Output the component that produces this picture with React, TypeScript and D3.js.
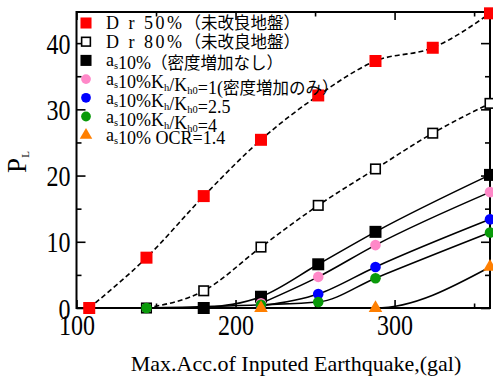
import React, { useEffect, useRef } from 'react';
import * as d3 from 'd3';

const W = 493;
const H = 376;
const left = 76.5, right = 490, top = 12, bottom = 308;

// 入力加速度 (gal) と PL 値
const accDr50 = [108, 144, 180, 216, 252, 288, 324, 360];
const plDr50 = [0, 7.6, 16.9, 25.4, 32.1, 37.3, 39.3, 44.5];
const accDr80 = [144, 180, 216, 252, 288, 324, 360];
const plDr80 = [0, 2.6, 9.2, 15.5, 21.0, 26.4, 30.9];
const accAs = [180, 216, 252, 288, 360];
const plAs = [0, 1.7, 6.6, 11.5, 20.1];
const accK = [216, 252, 288, 360];
const plK1 = [0.7, 4.7, 9.5, 17.5];
const plK25 = [0.3, 2.1, 6.2, 13.4];
const accK4 = [144, 216, 252, 288, 360];
const plK4 = [0, 0.5, 0.9, 4.5, 11.4];
const accOcr = [216, 288, 360];
const plOcr = [0, 0, 6.2];

const xMajor = [100, 200, 300];
const xMinor = [150, 250, 350];
const yMajor = [0, 10, 20, 30, 40];
const yMinor = [5, 15, 25, 35];

const SERIF = 'Liberation Serif, Times New Roman, serif';
const CJK = 'Noto Sans CJK JP, sans-serif';

const x = d3.scaleLinear().domain([100, 360]).range([left, right]);
const y = d3.scaleLinear().domain([0, 44.7]).range([bottom, top]);

type Mark = 'sq' | 'open' | 'circle' | 'tri';

const series: { acc: number[]; pl: number[]; mark: Mark; color: string; dashed: boolean }[] = [
  { acc: accDr50, pl: plDr50, mark: 'sq', color: '#ff0000', dashed: true },
  { acc: accDr80, pl: plDr80, mark: 'open', color: '#000', dashed: true },
  { acc: accAs, pl: plAs, mark: 'sq', color: '#000', dashed: false },
  { acc: accK, pl: plK1, mark: 'circle', color: '#ff88c8', dashed: false },
  { acc: accK, pl: plK25, mark: 'circle', color: '#0000ff', dashed: false },
  { acc: accK4, pl: plK4, mark: 'circle', color: '#0a9a0a', dashed: false },
  { acc: accOcr, pl: plOcr, mark: 'tri', color: '#ff7f00', dashed: false },
];

const line = d3.line<[number, number]>()
  .x(d => x(d[0]))
  .y(d => y(d[1]))
  .curve(d3.curveMonotoneX);

const tri = d3.symbol(d3.symbolTriangle, 80)();

function Marker({ mark, color, cx, cy, s = 1 }: { mark: Mark; color: string; cx: number; cy: number; s?: number }) {
  if (mark === 'sq') {
    const a = 12 * s;
    return <rect x={cx - a / 2} y={cy - a / 2} width={a} height={a} fill={color} />;
  }
  if (mark === 'open') {
    const a = 9.5 * s;
    return <rect x={cx - a / 2} y={cy - a / 2} width={a} height={a} fill="#fff" stroke="#000" strokeWidth={1.6} />;
  }
  if (mark === 'circle') {
    return <circle cx={cx} cy={cy} r={5.3 * s} fill={color} />;
  }
  return <path d={tri as string} transform={`translate(${cx},${cy}) scale(${s})`} fill={color} />;
}

const legendY = (i: number) => 23 + i * 18.7;

function Sub({ t }: { t: string }) {
  return (
    <>
      <tspan dy={3} fontSize={10.5}>{t}</tspan>
      <tspan dy={-3}>{''}</tspan>
    </>
  );
}

export default function App() {
  const axRef = useRef<SVGGElement>(null);

  useEffect(() => {
    const g = d3.select(axRef.current);
    g.selectAll('*').remove();
    const clean = (sel: any) => {
      sel.select('.domain').remove();
      sel.selectAll('line').attr('stroke', '#000').attr('stroke-width', 1.6);
    };

    // bottom
    const bx = g.append('g').attr('transform', `translate(0,${bottom})`)
      .call(d3.axisBottom(x).tickValues(xMajor).tickSizeInner(-8).tickSizeOuter(0).tickFormat(d3.format('d')));
    bx.attr('font-size', 24).attr('font-family', SERIF);
    bx.selectAll('text').attr('y', null).attr('dy', null).attr('fill', '#000')
      .attr('transform', 'translate(0,27) scale(1,1.25)');
    clean(bx);
    const bxm = g.append('g').attr('transform', `translate(0,${bottom})`)
      .call(d3.axisBottom(x).tickValues(xMinor).tickSizeInner(-4.5).tickSizeOuter(0).tickFormat(() => ''));
    clean(bxm);

    // top
    const tx = g.append('g').attr('transform', `translate(0,${top})`)
      .call(d3.axisTop(x).tickValues(xMajor).tickSizeInner(-8).tickSizeOuter(0).tickFormat(() => ''));
    clean(tx);
    const txm = g.append('g').attr('transform', `translate(0,${top})`)
      .call(d3.axisTop(x).tickValues(xMinor).tickSizeInner(-4.5).tickSizeOuter(0).tickFormat(() => ''));
    clean(txm);

    // left
    const ly = g.append('g').attr('transform', `translate(${left},0)`)
      .call(d3.axisLeft(y).tickValues(yMajor).tickSizeInner(-9).tickSizeOuter(0).tickFormat(d3.format('d')));
    ly.attr('font-size', 24).attr('font-family', SERIF);
    ly.selectAll('text').attr('x', null).attr('dy', null).attr('fill', '#000')
      .attr('transform', 'translate(-6,10) scale(1,1.25)');
    clean(ly);
    const lym = g.append('g').attr('transform', `translate(${left},0)`)
      .call(d3.axisLeft(y).tickValues(yMinor).tickSizeInner(-5).tickSizeOuter(0).tickFormat(() => ''));
    clean(lym);

    // right
    const ry = g.append('g').attr('transform', `translate(${right},0)`)
      .call(d3.axisRight(y).tickValues(yMajor).tickSizeInner(-9).tickSizeOuter(0).tickFormat(() => ''));
    clean(ry);
    const rym = g.append('g').attr('transform', `translate(${right},0)`)
      .call(d3.axisRight(y).tickValues(yMinor).tickSizeInner(-5).tickSizeOuter(0).tickFormat(() => ''));
    clean(rym);
  }, []);

  return (
    <svg width={W} height={H} style={{ position: 'absolute', left: 0, top: 0, background: '#fff' }}>
      <rect x={left} y={top} width={right - left} height={bottom - top} fill="none" stroke="#000" strokeWidth={2} />
      <g ref={axRef} />

      {series.map((s, i) => (
        <path
          key={'l' + i}
          d={line(s.acc.map((a, j) => [a, s.pl[j]] as [number, number])) || ''}
          fill="none"
          stroke="#000"
          strokeWidth={1.6}
          strokeDasharray={s.dashed ? '5,3' : undefined}
        />
      ))}
      {series.map((s, i) => (
        <g key={'m' + i}>
          {s.acc.map((a, j) => (
            <Marker key={j} mark={s.mark} color={s.color} cx={x(a)} cy={y(s.pl[j])} />
          ))}
        </g>
      ))}

      {/* legend */}
      <g fontFamily={SERIF} fontSize={18} fill="#000">
        {series.map((s, i) => (
          <Marker key={'lg' + i} mark={s.mark} color={s.color} cx={86} cy={legendY(i)} s={0.92} />
        ))}
        <text x={106} y={legendY(0) + 6}>
          <tspan letterSpacing={2.5}>D r 50%</tspan>
          <tspan fontFamily={CJK} fontSize={16.5}>（未改良地盤）</tspan>
        </text>
        <text x={106} y={legendY(1) + 6}>
          <tspan letterSpacing={2.5}>D r 80%</tspan>
          <tspan fontFamily={CJK} fontSize={16.5}>（未改良地盤）</tspan>
        </text>
        <text x={106} y={legendY(2) + 6}>
          a<Sub t="s" />10%
          <tspan fontFamily={CJK} fontSize={16.5}>（密度増加なし）</tspan>
        </text>
        <text x={106} y={legendY(3) + 6}>
          a<Sub t="s" />10%K<Sub t="h" />/K<Sub t="h0" />=1(
          <tspan fontFamily={CJK} fontSize={16.5}>密度増加のみ）</tspan>
        </text>
        <text x={106} y={legendY(4) + 6}>
          a<Sub t="s" />10%K<Sub t="h" />/K<Sub t="h0" />=2.5
        </text>
        <text x={106} y={legendY(5) + 6}>
          a<Sub t="s" />10%K<Sub t="h" />/K<Sub t="h0" />=4
        </text>
        <text x={106} y={legendY(6) + 6}>
          a<Sub t="s" />10% OCR=1.4
        </text>
      </g>

      {/* axis titles */}
      <text x={296} y={371} textAnchor="middle" fontFamily={SERIF} fontSize={22} fill="#000">
        Max.Acc.of Inputed Earthquake,(gal)
      </text>
      <text transform="translate(26,162) rotate(-90)" textAnchor="middle" fontFamily={SERIF} fontSize={27} fill="#000">
        P<tspan dy={3} fontSize={11}>L</tspan>
      </text>
    </svg>
  );
}
